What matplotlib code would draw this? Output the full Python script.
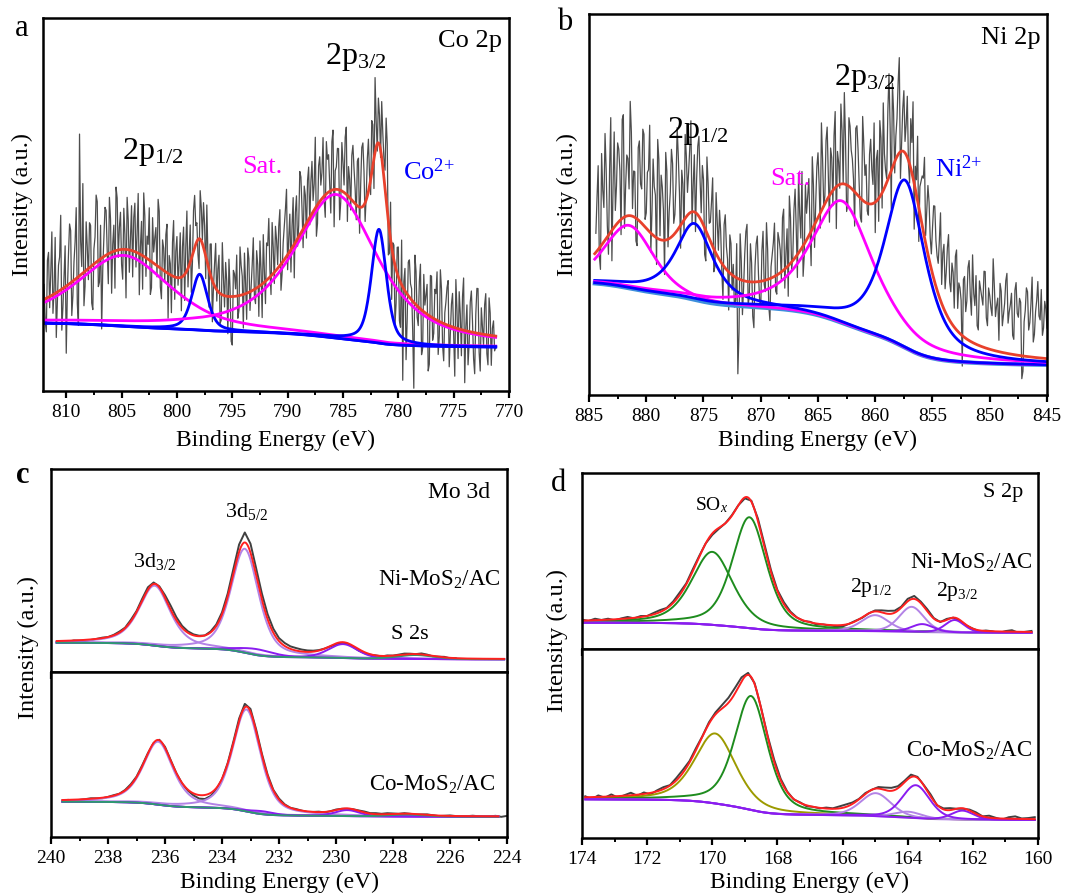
import numpy as np
import matplotlib
matplotlib.use('Agg')
import matplotlib.pyplot as plt
from matplotlib.ticker import MultipleLocator
from math import erf

plt.rcParams['font.family'] = 'Liberation Serif'
plt.rcParams['mathtext.fontset'] = 'custom'
plt.rcParams['mathtext.rm'] = 'Liberation Serif'
plt.rcParams['mathtext.it'] = 'Liberation Serif:italic'

# ---- peak fit parameters (centre eV, height, FWHM eV, Lorentz fraction)
# a: Co 2p
co_centers = [804.8, 797.95, 785.6, 781.75]
co_heights = [19.0, 15.0, 38.5, 30.5]
co_fwhm = [10.0, 1.7, 9.0, 1.6]
co_eta = [0.6, 0.5, 0.75, 0.5]
co_bg = [18.2, 11.8]          # background at high / low BE end
co_range = [812.0, 771.2]
# raw data as residual from the fit, 0.2 eV steps starting at co_start,
# plus the in-between points starting at co_start_mid
co_start = 812.0
co_resid = [4, -9, 12, 6, -5, 15, -2, 9, -11, 3, -18, 8, 14, -4, 10, -7, 38, 2, -9, 13,
            -3, 11, -12, 7, 16, -6, -19, 5, 12, -8, 9, 2, -10, 14, 6, -4, 11, -13, 8, 3,
            -7, 13, 5, -11, 9, 17, -5, 4, -9, 12, 7, -3, 15, -8, 6, 10, -12, 3, 9, -6,
            11, 4, -9, 13, 7, -5, 10, -2, 14, 5, -8, 9, 12, -6, 3, 8, -11, 6, -3, 10,
            -7, 5, 9, -10, 2, -13, 6, 11, -4, 8, -9, 3, 12, -5, 7, -2, 10, -8, 4, 13,
            -6, 9, 2, 14, -3, 8, 11, -7, 5, 13, -4, 10, 6, -9, 12, 3, 15, -5, 8, 11,
            -2, 14, 7, -8, 10, 4, 16, -6, 9, 2, 13, -10, 6, 11, -3, 8, 15, -7, 5, 12,
            9, -4, 13, 6, 17, -5, 10, 3, 14, -8, 7, 12, -2, 9, 5, 18, -6, -14, 4, -9,
            8, -12, -25, 6, -7, 10, 3, -23, 9, -5, 12, -10, 2, 8, -13, 11, -4, 7, -9, 14,
            -6, 3, 10, -11, 6, -2, 13, -8, 4, 9, -14, 7, -3, 11, -7, 5, 12, -10, 2, 8,
            -5, 10, -8, 4, -3]
co_start_mid = 811.9
co_resid_mid = [-6, 10, -3, 17, 1, -12, 7, 20, -5, 11, -2, 16, -9, 5, 19, -13, 9, 24, -4, 6,
                12, -10, 4, 18, -7, 9, -3, 13, 1, 15, -11, 7, 17, -2, 10, -8, 4, 14, -6, 12,
                9, -4, 16, 2, -9, 11, 6, 14, -7, 3, 10, 18, -5, 8, -3, 13, 5, -10, 15, 7,
                -2, 12, 8, -7, 16, 3, -9, 11, 5, -4, 13, 1, 7, 15, -10, 9, -1, 12, 6, -8,
                14, -3, 4, 10, -12, 7, 2, -6, 13, 5, 11, -7, 9, 1, 14, -4, 6, 12, -9, 3,
                10, 16, -5, 7, 12, 1, 15, -3, 9, 18, 4, -6, 13, 8, -2, 17, 6, 11, -4, 14,
                9, 3, 19, -5, 12, 7, -1, 14, 10, -6, 16, 5, 11, -8, 13, 2, 18, 8, -3, 15,
                4, 12, -7, 16, 9, 1, 14, -4, 11, 20, -2, 8, 15, 5, 22, -9, 10, 3, -16, 7,
                -11, 12, 2, -18, 9, 4, -8, 13, -3, 7, -12, 10, 5, -15, 11, -6, 8, 13, -4, 9,
                -10, 6, 12, -2, 9, -13, 5, 10, -7, 14, 1, -9, 8, 3, -11, 12, -5, 7, -3, 11,
                -8, 6, 2, -4]

# b: Ni 2p
ni_centers = [881.5, 875.8, 862.9, 857.4]
ni_heights = [16.5, 20.0, 32.0, 44.0]
ni_fwhm = [5.0, 3.9, 6.4, 4.2]
ni_eta = [0.4, 0.8, 0.7, 0.7]
ni_bg = [29.3, 7.9]
ni_range = [884.5, 845.0]
ni_start = 884.4
ni_resid = [5, 22, -6, 14, 28, 3, 17, -8, 25, 10, 19, -4, 27, 8, 15, 30, 2, 12, -7, 21,
            9, 24, 4, 16, -5, 20, 11, 26, 1, 14, -9, 18, 7, 23, 3, 13, 19, -6, 10, 22,
            6, 17, -3, 15, 9, 21, 2, 12, -8, 14, 5, 18, -4, 9, 13, -2, 11, 6, -10, 8,
            3, -6, -25, 12, -9, 7, 15, -4, 5, -12, 10, 2, -7, 13, -3, 8, -11, 6, 14, -5,
            9, -2, 16, 4, -8, 12, 1, 18, -6, 10, 20, -3, 7, 15, -9, 11, 5, 17, -4, 13,
            2, 19, -7, 9, 14, -11, 6, 21, 0, 12, -5, 16, 8, -9, 18, 3, -6, 15, 10, -3,
            17, 5, -8, 13, 20, -4, 9, 1, 27, -10, 14, 6, 19, -7, 11, 3, 16, -5, 8, -12,
            4, -9, 10, 14, 2, 18, 7, 12, 20, 9, 15, 5, 17, 11, 22, 8, 14, 19, 6, 12,
            -8, 16, 10, 21, 7, 13, 18, 4, 15, 11, 20, 6, 14, 9, 17, 12, 3, 16, 10, 19,
            8, 13, 5, 17, 11, 15, -6, 9, 18, 7, 14, 4, 12, 20, 10, 6, 15, 8]
ni_start_mid = 884.3
ni_resid_mid = [14, -2, 24, 9, 18, -5, 30, 11, 4, 21, 13, 26, -3, 16, 7, 22, 12, -6, 19, 10,
                25, 2, 15, 28, 6, 13, -7, 21, 17, 8, 23, -2, 12, 19, 5, 27, 9, 14, -4, 16,
                11, 24, 7, -5, 18, 10, 15, -7, 20, 4, 11, -6, 16, 2, 8, -9, 14, 3, 10, -4,
                -8, 9, -14, 5, -2, 13, -6, 10, -9, 4, 12, -5, 8, -1, 15, -7, 3, 9, -4, 11,
                6, 14, -5, 10, 18, -2, 13, 7, 21, 3, -8, 15, 11, 2, 19, -6, 14, 8, 23, 0,
                16, 6, 12, -4, 20, 9, -1, 14, 24, -7, 18, 10, 3, 17, 12, -5, 22, 7, -2, 13,
                9, 21, 11, -6, 15, 23, 4, 18, 12, 22, -3, 10, 25, 2, 16, 8, -1, 13, 20, 6,
                17, 7, 13, 21, 10, 15, 4, 19, 12, 8, 23, 14, 6, 18, 10, 16, 5, 21, 13, 9,
                15, 7, 19, 12, 23, 10, 5, 17, 13, 20, 8, 16, 11, 24, 9, 14, 18, 7, 13, 21,
                11, 16, 4, 19, 10, 14, -4, 12, 17, 9, 21, 6, 15, 11, 18, 8, 13]

# c: Mo 3d, Ni-MoS2/AC (top) and Co-MoS2/AC (bottom)
mo_ni_centers = [236.36, 233.2, 232.8, 229.75, 227.2]
mo_ni_heights = [60, 104, 6, 14, 4]
mo_ni_fwhm = [1.3, 1.15, 1.4, 1.2, 1.5]
mo_ni_eta = [0.6, 0.5, 0.3, 0.3, 0.3]
mo_ni_bg = [29.3, 12.7]
mo_ni_range = [239.8, 224.1]
mo_ni_start = 239.8
mo_ni_resid = [-1, -0.5, -1, 0, -0.5, -1, -0.5, 0, 0.5, 0,
               0.5, 1, 0.5, 1.5, 1, 2, 2.5, 1.5, 1, 2.5,
               4, 3, 2, 1.5, 1, 0.5, 0, 1, 1.5, 2,
               3, 5, 7.5, 10, 9, 7, 6, 5, 4, 3,
               3, 2.5, 2.5, 2, 1.5, 1, 0.5, 0, -0.5, -1,
               -1, -0.5, -1, -1.5, -1, -0.5, 0, -0.5, 0.5, 0,
               0.5, 1, 0.5, 0, 1, 0.5, -0.5, 0, 0.5, -0.5, 0]

mo_co_centers = [236.24, 233.14, 232.6, 229.6, 227.5]
mo_co_heights = [63, 102, 3, 6, 2]
mo_co_fwhm = [1.25, 1.15, 1.0, 1.0, 1.5]
mo_co_eta = [0.6, 0.5, 0.3, 0.3, 0.3]
mo_co_bg = [35.3, 20.3]
mo_co_range = [239.6, 224.3]
mo_co_start = 239.6
mo_co_resid = [-0.5, 0, -1, -0.5, 0, 0.5, 0, -0.5, 0, 0.5,
               0, 0.5, 1, 0.5, 1, 0.5, 0, 0.5, 1, 0.5,
               0, -0.5, -1, -2, -3.5, -4, -3, -1.5, -0.5, 0.5,
               1.5, 2.5, 3.5, 3, 2, 1.5, 1, 0.5, 1, 0.5,
               0, 0.5, 0, -0.5, 0, 0.5, -0.5, 0, 0.5, 0,
               -0.5, 0, 0.5, 1, 0.5, 1, 0.5, 1, 0.5, 0,
               0.5, 0, -0.5, 0, 0.5, 0, -0.5, 0, 0.5, 0,
               -0.5, 0, 0.5, 0, -0.5, 0, 0.5, -0.5, 0.5]

# d: S 2p
s_ni_centers = [170.0, 168.86, 165.0, 163.88, 163.55, 162.56]
s_ni_heights = [73, 111, 16, 25, 8, 12.5]
s_ni_fwhm = [1.5, 1.25, 1.0, 0.9, 0.8, 0.7]
s_ni_eta = [0.5, 0.5, 0.3, 0.3, 0.3, 0.3]
s_ni_bg = [26.3, 16.3]
s_ni_range = [174.0, 160.2]
s_ni_start = 174.0
s_ni_resid = [1, -0.5, 1.5, 0, 1, -1, 0.5, 1.5, -0.5, 1,
              0, 1.5, 2, 0.5, 1.5, 2.5, 1, 2, 1, 0,
              -1.5, -1, 0, 0.5, 0, -1, 1, 2.5, 3, 2,
              1, 2, 1, 0, -0.5, 0.5, -1, 0, -0.5, -1,
              -1.5, 0, 0.5, -0.5, 0, 1, 2, 3, 2, 1,
              2.5, 3, 1.5, 2, 0.5, -0.5, 1, 0, -1, -0.5,
              0, -1, 0.5, 0, -1.5, 0.5, 1.5, -1, 0, 1]

s_co_centers = [169.91, 168.81, 164.98, 163.98, 163.75, 162.32]
s_co_heights = [70, 114, 23, 6, 33, 9]
s_co_fwhm = [1.5, 1.2, 1.1, 1.0, 1.0, 0.8]
s_co_eta = [0.5, 0.5, 0.3, 0.3, 0.3, 0.3]
s_co_bg = [38.7, 18.0]
s_co_range = [173.9, 160.1]
s_co_start = 173.9
s_co_resid = [1, -2, 1.5, -1, 2, -1.5, 0.5, 2.5, -1, 1.5,
              -1.5, 1, 2, 0.5, 2.5, 3, 1.5, 2, 0.5, 1.5,
              2, 3.5, 5, 5.5, 4, 2, 1, 0.5, 1.5, 2.5,
              1.5, 0.5, -0.5, 0.5, -1, 0, -0.5, 1, 0.5, 2,
              2.5, 1.5, 0.5, 1, 0, 1.5, 2.5, 3, 2, 1.5,
              2.5, 1, 0.5, 2, -0.5, 1, 2, 0, -0.5, 1,
              1.5, 0, 2, 0.5, -1, 1.5, 2.5, 0.5, 1, 2]

# colours
MAG, BLU = '#ff00ff', '#0000ff'
LP, DP, GRN, TEAL, OLV = '#b383e6', '#8a1cf0', '#1e8c1e', '#2e9a70', '#9c9a00'
co_colors = [MAG, BLU, MAG, BLU]
ni_colors = [MAG, BLU, MAG, BLU]
mo_colors = [LP, LP, DP, DP, TEAL]
s_ni_colors = [GRN, GRN, LP, LP, DP, DP]
s_co_colors = [OLV, GRN, LP, LP, DP, DP]

verf = np.vectorize(erf)


def pv(x, c, h, w, eta):
    d = (x - c) / w
    return h * (eta / (1 + 4 * d ** 2) + (1 - eta) * np.exp(-4 * np.log(2) * d ** 2))


def pv_cdf(x, c, h, w, eta):
    sig = w / (2 * np.sqrt(2 * np.log(2)))
    g = h * sig * np.sqrt(2 * np.pi) * 0.5 * (1 + verf((x - c) / (sig * np.sqrt(2))))
    gam = w / 2
    lor = h * gam * (np.arctan((x - c) / gam) + np.pi / 2)
    return eta * lor + (1 - eta) * g


def fit_parts(x, cen, hgt, fw, eta, bg_ends, e_range):
    comps = [pv(x, *p) for p in zip(cen, hgt, fw, eta)]
    area = lambda e: sum(pv_cdf(np.asarray(e, float), *p) for p in zip(cen, hgt, fw, eta))
    hi, lo = e_range
    frac = (area(x) - area(lo)) / (area(hi) - area(lo))
    bg = bg_ends[1] + (bg_ends[0] - bg_ends[1]) * frac   # Shirley-type step
    return bg, comps


def draw(ax, cen, hgt, fw, eta, colors, bg_ends, e_range, segments,
         raw_c, env_c, bg_c, lw_fit, lw_raw, bg_lw=None):
    x = np.linspace(e_range[0], e_range[1], 900)
    bg, comps = fit_parts(x, cen, hgt, fw, eta, bg_ends, e_range)
    xr = np.concatenate([s - 0.2 * np.arange(len(r)) for s, r in segments])
    res = np.concatenate([np.array(r, float) for s, r in segments])
    order = np.argsort(-xr)
    xr, res = xr[order], res[order]
    bgr, compr = fit_parts(xr, cen, hgt, fw, eta, bg_ends, e_range)
    ax.plot(xr, bgr + sum(compr) + res, color=raw_c, lw=lw_raw)
    ax.plot(x, bg, color=bg_c, lw=bg_lw or lw_fit)
    for comp, col in zip(comps, colors):
        ax.plot(x, bg + comp, color=col, lw=lw_fit)
    ax.plot(x, bg + sum(comps), color=env_c, lw=lw_fit)


fig = plt.figure(figsize=(10.8, 8.96), dpi=100)


def add_ax(l, t, r, b):
    return fig.add_axes([l / 1080, 1 - b / 896, (r - l) / 1080, (b - t) / 896])


def style(ax, xlim, ylim, major, minor, labels=True):
    ax.set_xlim(*xlim)
    ax.set_ylim(*ylim)
    ax.xaxis.set_major_locator(MultipleLocator(major))
    ax.xaxis.set_minor_locator(MultipleLocator(minor))
    ax.tick_params(axis='y', left=False, labelleft=False)
    ax.tick_params(axis='x', which='major', direction='out', length=5, width=1.6,
                   labelsize=14, pad=4, labelbottom=labels)
    ax.tick_params(axis='x', which='minor', direction='out', length=3, width=1.4)
    for s in ax.spines.values():
        s.set_linewidth(1.8)


ax_a = add_ax(43, 18, 509, 391)
ax_b = add_ax(589, 14, 1047, 395)
ax_c1 = add_ax(51, 469, 507, 672)
ax_c2 = add_ax(51, 672, 507, 837)
ax_d1 = add_ax(582, 473, 1038, 649)
ax_d2 = add_ax(582, 649, 1038, 838)

draw(ax_a, co_centers, co_heights, co_fwhm, co_eta, co_colors, co_bg, co_range,
     [(co_start, co_resid), (co_start_mid, co_resid_mid)],
     '#4d4d4d', '#e8412c', BLU, 2.0, 0.9)
draw(ax_b, ni_centers, ni_heights, ni_fwhm, ni_eta, ni_colors, ni_bg, ni_range,
     [(ni_start, ni_resid), (ni_start_mid, ni_resid_mid)],
     '#4d4d4d', '#e8412c', '#3d8fdc', 2.0, 0.9, bg_lw=3.0)
draw(ax_c1, mo_ni_centers, mo_ni_heights, mo_ni_fwhm, mo_ni_eta, mo_colors, mo_ni_bg,
     mo_ni_range, [(mo_ni_start, mo_ni_resid)], '#404040', '#ff2020', DP, 1.4, 1.4)
draw(ax_c2, mo_co_centers, mo_co_heights, mo_co_fwhm, mo_co_eta, mo_colors, mo_co_bg,
     mo_co_range, [(mo_co_start, mo_co_resid)], '#404040', '#ff2020', DP, 1.4, 1.4)
draw(ax_d1, s_ni_centers, s_ni_heights, s_ni_fwhm, s_ni_eta, s_ni_colors, s_ni_bg,
     s_ni_range, [(s_ni_start, s_ni_resid)], '#404040', '#ff2020', LP, 1.4, 1.4)
draw(ax_d2, s_co_centers, s_co_heights, s_co_fwhm, s_co_eta, s_co_colors, s_co_bg,
     s_co_range, [(s_co_start, s_co_resid)], '#404040', '#ff2020', LP, 1.4, 1.4)

style(ax_a, (812.1, 770), (0, 100), 5, 2.5)
style(ax_b, (885, 845), (0, 100), 5, 2.5)
style(ax_c1, (240, 224), (0, 203), 2, 1, labels=False)
style(ax_c2, (240, 224), (0, 165), 2, 1)
style(ax_d1, (174, 160), (0, 176), 2, 1, labels=False)
style(ax_d2, (174, 160), (0, 189), 2, 1)


def txt(ax, x, y, s, size, color='black', ha='center', **kw):
    ax.text(x, y, s, transform=ax.transAxes, fontsize=size, color=color,
            ha=ha, va='center', **kw)


# panel a
txt(ax_a, 0.985, 0.938, 'Co 2p', 19, ha='right')
txt(ax_a, 0.672, 0.895, r'2p$_{3/2}$', 23)
txt(ax_a, 0.236, 0.641, r'2p$_{1/2}$', 23)
txt(ax_a, 0.47, 0.60, 'Sat.', 19, color=MAG)
txt(ax_a, 0.828, 0.587, r'Co$^{2{+}}$', 19, color=BLU)
# panel b
txt(ax_b, 0.985, 0.937, 'Ni 2p', 19, ha='right')
txt(ax_b, 0.603, 0.832, r'2p$_{3/2}$', 23)
txt(ax_b, 0.238, 0.693, r'2p$_{1/2}$', 23)
txt(ax_b, 0.439, 0.567, 'Sat.', 19, color=MAG)
txt(ax_b, 0.806, 0.593, r'Ni$^{2{+}}$', 19, color=BLU)
# panel c
txt(ax_c1, 0.963, 0.882, 'Mo 3d', 17, ha='right')
txt(ax_c1, 0.43, 0.793, r'3d$_{5/2}$', 16)
txt(ax_c1, 0.228, 0.542, r'3d$_{3/2}$', 16)
txt(ax_c1, 0.985, 0.453, r'Ni-MoS$_2$/AC', 16.5, ha='right')
txt(ax_c1, 0.787, 0.187, 'S 2s', 16)
txt(ax_c2, 0.974, 0.315, r'Co-MoS$_2$/AC', 16.5, ha='right')
# panel d
txt(ax_d1, 0.967, 0.892, 'S 2p', 16, ha='right')
txt(ax_d1, 0.285, 0.818, r'SO$_{\mathit{x}}$', 14)
txt(ax_d1, 0.987, 0.489, r'Ni-MoS$_2$/AC', 16.5, ha='right')
txt(ax_d1, 0.634, 0.347, r'2p$_{1/2}$', 15.5)
txt(ax_d1, 0.822, 0.324, r'2p$_{3/2}$', 15.5)
txt(ax_d2, 0.987, 0.46, r'Co-MoS$_2$/AC', 16.5, ha='right')


def ftxt(xp, yp, s, size, **kw):
    fig.text(xp / 1080, 1 - yp / 896, s, fontsize=size, ha='center', va='center', **kw)


ftxt(22, 28, 'a', 22)
ftxt(565, 22, 'b', 22)
ftxt(23, 475, 'c', 22, fontweight='bold')
ftxt(559, 483, 'd', 22)

for xp, yp in [(276, 440), (818, 440), (279, 882), (810, 882)]:
    ftxt(xp, yp, 'Binding Energy (eV)', 17)
for xp, yp in [(22, 205), (567, 205), (28, 647), (557, 641)]:
    ftxt(xp, yp, 'Intensity (a.u.)', 17.5, rotation=90)

fig.savefig('out.png', dpi=100)
